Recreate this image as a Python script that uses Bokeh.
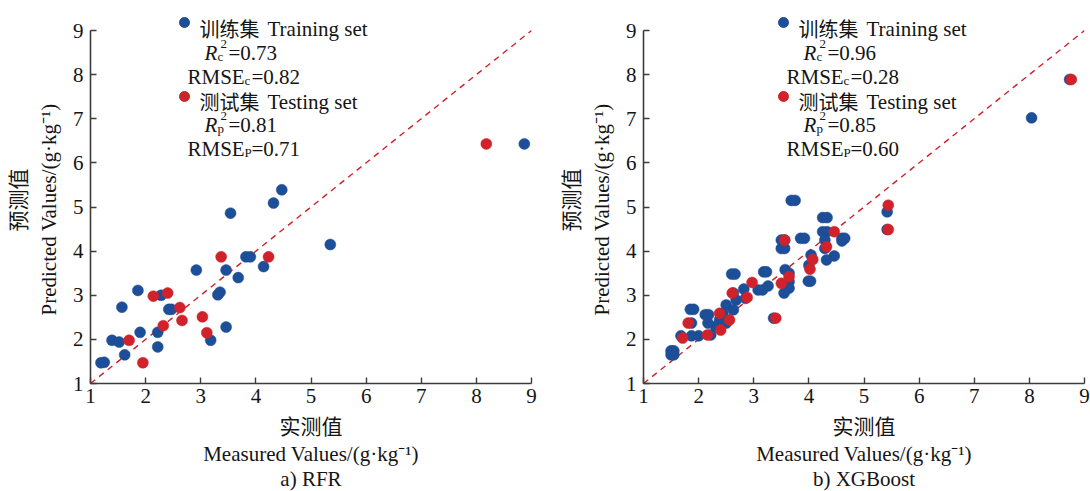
import numpy as np
from bokeh.plotting import figure
from bokeh.models import Range1d, FixedTicker, Title
from bokeh.layouts import row
from bokeh.core.properties import value
from bokeh.embed import file_html
from bokeh.resources import INLINE

# ---------------- data ----------------
ticks = [1, 2, 3, 4, 5, 6, 7, 8, 9]

rfr_train_x = [8.87, 4.47, 4.32, 3.54, 5.35, 3.82, 3.90, 4.14, 2.92, 3.46, 3.68, 1.86,
               2.28, 3.35, 3.31, 1.57, 2.42, 2.47, 3.46, 1.90, 2.22, 1.39, 1.52, 3.18,
               2.22, 1.62, 1.19, 1.25]
rfr_train_y = [6.43, 5.39, 5.09, 4.86, 4.15, 3.87, 3.87, 3.65, 3.57, 3.57, 3.40, 3.11,
               3.00, 3.07, 3.01, 2.73, 2.68, 2.68, 2.28, 2.16, 2.16, 1.98, 1.94, 1.98,
               1.83, 1.65, 1.47, 1.48]
rfr_test_x = [8.18, 3.37, 4.23, 2.14, 2.40, 2.62, 2.66, 3.03, 3.11, 2.32, 1.70, 1.95]
rfr_test_y = [6.43, 3.87, 3.87, 2.98, 3.05, 2.72, 2.43, 2.51, 2.15, 2.31, 1.98, 1.47]

xgb_train_x = [8.73, 8.04, 3.68, 3.75, 5.42, 5.42, 4.25, 4.33, 4.25, 4.33, 4.29, 4.29,
               4.60, 4.65, 4.60, 4.46, 4.32, 3.85, 3.92, 3.50, 3.56, 3.50, 3.56, 4.04,
               4.00, 3.99, 4.03, 3.57, 3.64, 3.64, 3.64, 3.55, 3.18, 3.23, 3.26, 3.08,
               3.16, 2.60, 2.66, 2.82, 2.85, 2.63, 2.68, 2.50, 2.63, 2.44, 2.38, 2.50,
               2.31, 2.12, 2.18, 2.17, 2.22, 1.85, 1.91, 1.87, 1.68, 1.87, 2.00, 1.50,
               1.55, 1.50, 1.55, 3.36]
xgb_train_y = [7.89, 7.02, 5.15, 5.15, 4.89, 4.49, 4.76, 4.76, 4.44, 4.44, 4.25, 4.06,
               4.29, 4.29, 4.23, 3.89, 3.80, 4.29, 4.29, 4.25, 4.25, 4.06, 4.06, 3.91,
               3.68, 3.32, 3.32, 3.58, 3.50, 3.31, 3.16, 3.05, 3.53, 3.53, 3.21, 3.12,
               3.12, 3.48, 3.48, 3.14, 2.93, 3.05, 2.89, 2.78, 2.67, 2.59, 2.44, 2.37,
               2.29, 2.56, 2.56, 2.37, 2.10, 2.68, 2.68, 2.37, 2.08, 2.08, 2.08, 1.74,
               1.74, 1.65, 1.65, 2.48]
xgb_test_x = [8.76, 5.44, 5.44, 4.46, 4.32, 3.56, 4.07, 4.02, 3.64, 3.50, 2.97, 2.88,
              2.61, 3.40, 2.38, 2.56, 2.40, 2.16, 1.81, 1.71]
xgb_test_y = [7.89, 5.04, 4.49, 4.44, 4.10, 4.25, 3.81, 3.59, 3.42, 3.27, 3.29, 2.95,
              3.05, 2.48, 2.59, 2.44, 2.21, 2.10, 2.37, 2.03]

train_name = ["训练集", "Training set"]
test_name = ["测试集", "Testing set"]
r2_train = ["0.73", "0.96"]
rmse_train = ["0.82", "0.28"]
r2_test = ["0.81", "0.85"]
rmse_test = ["0.71", "0.60"]
captions = ["a) RFR", "b) XGBoost"]
x_title = ["实测值", "Measured Values/(g·kg⁻¹)"]
y_title = ["预测值", "Predicted Values/(g·kg⁻¹)"]

# ---------------- styling ----------------
BLUE = "#1d4e98"
RED = "#d1222c"
INK = "#151515"
AXIS = "#3c3c3c"
SERIF = "Liberation Serif"
CJK = "Noto Sans CJK SC"

FW, FH = 441, 383          # frame size in px (frame top = top of picture)
PPX = FW / 8.0
PPY = 353 / 8.0
Y_TOP = 1 + FH / PPY


def dx(px):
    """px offset from frame left -> data x"""
    return 1 + px / PPX


def dy(py):
    """absolute px from top -> data y"""
    return 1 + (FH - py) / PPY


def make_panel(i, trx, try_, tex, tey, left, right, leg_x):
    p = figure(frame_width=FW, frame_height=FH,
               min_border_left=left, min_border_right=right,
               min_border_top=0, min_border_bottom=108,
               x_range=Range1d(ticks[0], ticks[-1]), y_range=Range1d(ticks[0], Y_TOP),
               output_backend="svg", toolbar_location=None, title=None)
    p.xgrid.visible = False
    p.ygrid.visible = False
    p.outline_line_color = None
    p.background_fill_color = "white"
    p.border_fill_color = "white"

    for ax in (p.xaxis[0], p.yaxis[0]):
        ax.ticker = FixedTicker(ticks=ticks)
        ax.axis_line_color = AXIS
        ax.axis_line_width = 1.6
        ax.major_tick_line_color = AXIS
        ax.major_tick_line_width = 1.4
        ax.major_tick_in = 6
        ax.major_tick_out = 0
        ax.minor_tick_line_color = None
        ax.major_label_text_font = SERIF
        ax.major_label_text_font_size = "21px"
        ax.major_label_text_color = INK
    p.yaxis[0].bounds = (ticks[0], ticks[-1])
    p.yaxis[0].major_label_standoff = 7
    p.xaxis[0].major_label_standoff = 5

    # 1:1 reference line
    p.line(x=[ticks[0], ticks[-1]], y=[ticks[0], ticks[-1]], line_color=RED,
           line_width=1.4, line_dash="6 5")

    p.scatter(trx, try_, size=11, fill_color=BLUE, line_color=BLUE, line_width=0.5)
    p.scatter(tex, tey, size=11, fill_color=RED, line_color=RED, line_width=0.5)

    # ---- legend / statistics block ----
    L = leg_x
    p.scatter([dx(L), dx(L)], [dy(22), dy(96)], size=10,
              fill_color=[BLUE, RED], line_color=[BLUE, RED])
    p.text([dx(L + 15), dx(L + 15)], [dy(28), dy(101)],
           text=[train_name[0], test_name[0]], text_font=value(CJK),
           text_font_size="20px", text_color=INK, text_baseline="alphabetic")
    p.text([dx(L + 83), dx(L + 83)], [dy(28), dy(101)],
           text=[train_name[1], test_name[1]], text_font=value(SERIF),
           text_font_size="21px", text_color=INK, text_baseline="alphabetic")
    # italic R
    p.text([dx(L + 20), dx(L + 20)], [dy(52), dy(124)], text=["R", "R"],
           text_font=value(SERIF), text_font_style="italic",
           text_font_size="21px", text_color=INK, text_baseline="alphabetic")
    # subscripts
    p.text([dx(L + 33), dx(L + 33), dx(L + 60), dx(L + 60)],
           [dy(56), dy(128), dy(80), dy(152)], text=["c", "p", "c", "P"],
           text_font=value(SERIF), text_font_size="13px", text_color=INK,
           text_baseline="alphabetic")
    # superscript 2
    p.text([dx(L + 36), dx(L + 36)], [dy(43), dy(115)], text=["2", "2"],
           text_font=value(SERIF), text_font_size="13px", text_color=INK,
           text_baseline="alphabetic")
    # RMSE
    p.text([dx(L + 3), dx(L + 3)], [dy(76), dy(148)], text=["RMSE", "RMSE"],
           text_font=value(SERIF), text_font_size="21px", text_color=INK,
           text_baseline="alphabetic")
    # values
    p.text([dx(L + 44), dx(L + 67), dx(L + 44), dx(L + 67)],
           [dy(52), dy(76), dy(124), dy(148)],
           text=["=" + r2_train[i], "=" + rmse_train[i], "=" + r2_test[i], "=" + rmse_test[i]],
           text_font=value(SERIF), text_font_size="21px", text_color=INK,
           text_baseline="alphabetic")

    # ---- axis titles and caption, stacked in the side panels ----
    def title(text, font, standoff, align="center", offset=0):
        return Title(text=text, text_font=font, text_font_size="21px",
                     text_color=INK, align=align, offset=offset, standoff=standoff,
                     text_font_style="normal")

    p.add_layout(title(x_title[0], CJK, 4), "below")
    p.add_layout(title(x_title[1], SERIF, -3), "below")
    p.add_layout(title(captions[i], SERIF, 1), "below")
    p.add_layout(title(y_title[1], SERIF, 18, align="left", offset=68), "left")
    p.add_layout(title(y_title[0], CJK, -12, align="left", offset=152), "left")
    return p


p1 = make_panel(0, rfr_train_x, rfr_train_y, rfr_test_x, rfr_test_y,
                left=90, right=14, leg_x=94)
p2 = make_panel(1, xgb_train_x, xgb_train_y, xgb_test_x, xgb_test_y,
                left=98, right=6, leg_x=140)

layout = row(p1, p2, spacing=0)
open("out.html", "w").write(file_html(layout, INLINE))
